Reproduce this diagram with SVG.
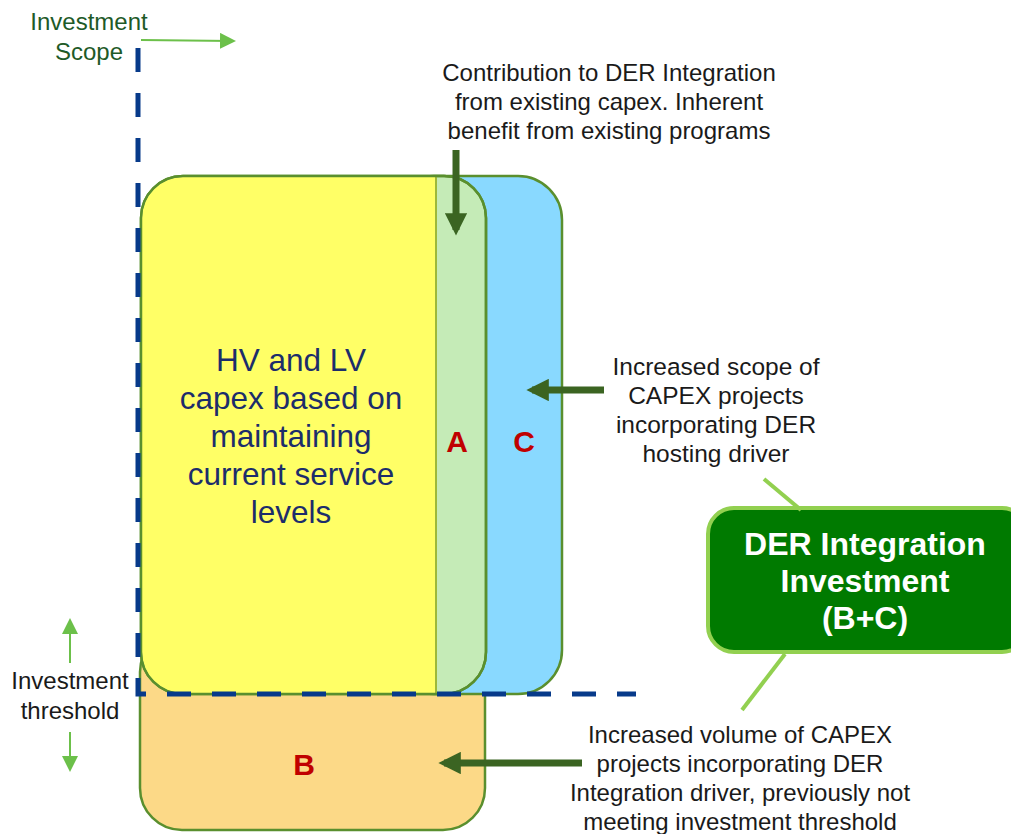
<svg xmlns="http://www.w3.org/2000/svg" width="1011" height="834" viewBox="0 0 1011 834" font-family="'Liberation Sans', Arial, sans-serif">
<defs>
<style>
text{font-family:'Liberation Sans',Arial,sans-serif;text-anchor:middle}
.note{font-size:24px;fill:#1a1a1a}
.lbl{font-size:30px;font-weight:bold;fill:#C00000}
.box{stroke:#5A8F2E;stroke-width:2.5}
.dash{fill:none;stroke:#073A8A;stroke-width:5;stroke-dasharray:24 21}
.thin{stroke:#6CC04A;stroke-width:2;fill:none}
.thick{stroke:#3B6422;stroke-width:7;fill:none}
.link{stroke:#92D050;stroke-width:4;fill:none}
</style>
<marker id="lg" markerWidth="8" markerHeight="8" refX="6" refY="4" orient="auto" markerUnits="strokeWidth"><path d="M0,0 L8,4 L0,8 Z" fill="#6CC04A"/></marker>
<marker id="dg" markerWidth="3.2" markerHeight="3.2" refX="2.4" refY="1.6" orient="auto" markerUnits="strokeWidth"><path d="M0,0 L3.2,1.6 L0,3.2 Z" fill="#3B6422"/></marker>
</defs>
<g id="nodeB"><rect class="box" x="140" y="630" width="345" height="200" rx="42" fill="#FCD987"/><text class="lbl" x="304" y="775">B</text></g>
<g id="nodeC"><rect class="box" x="390" y="176" width="172" height="518" rx="44" fill="#89D9FF"/><text class="lbl" x="524" y="452">C</text></g>
<g id="nodeA">
<rect class="box" x="141" y="176" width="345" height="518" rx="42" fill="#C5EBB7"/>
<path d="M436,177 L183,177 A41,41 0 0 0 142,218 L142,652 A41,41 0 0 0 183,693 L436,693 Z" fill="#FFFF66"/>
<line x1="436" y1="177" x2="436" y2="693" stroke="#9DB83A" stroke-width="2"/>
<rect x="141" y="176" width="345" height="518" rx="42" fill="none" stroke="#5A8F2E" stroke-width="2.5"/>
<text class="lbl" x="457" y="452">A</text>
<text font-size="31.5" fill="#1C2D6B"><tspan x="291" y="371">HV and LV</tspan><tspan x="291" y="409">capex based on</tspan><tspan x="291" y="447">maintaining</tspan><tspan x="291" y="485">current service</tspan><tspan x="291" y="523">levels</tspan></text>
</g>
<g id="scope-lines">
<path class="dash" d="M138,48 L138,694 L636,694"/>
</g>
<g id="nodeDER">
<rect x="708" y="508" width="320" height="144" rx="26" fill="#007A00" stroke="#92D050" stroke-width="4"/>
<text font-size="32" font-weight="bold" fill="#FFFFFF"><tspan x="865" y="555">DER Integration</tspan><tspan x="865" y="592">Investment</tspan><tspan x="865" y="629">(B+C)</tspan></text>
</g>
<g id="labels">
<text font-size="24" fill="#1E5A28"><tspan x="89" y="30">Investment</tspan><tspan x="89" y="60">Scope</tspan></text>
<text class="note"><tspan x="70" y="689">Investment</tspan><tspan x="70" y="719">threshold</tspan></text>
<text class="note"><tspan x="609" y="81">Contribution to DER Integration</tspan><tspan x="609" y="110">from existing capex.  Inherent</tspan><tspan x="609" y="139">benefit from existing programs</tspan></text>
<text class="note" style="font-size:24.5px"><tspan x="716" y="375">Increased scope of</tspan><tspan x="716" y="404">CAPEX projects</tspan><tspan x="716" y="433">incorporating DER</tspan><tspan x="716" y="462">hosting driver</tspan></text>
<text class="note"><tspan x="740" y="743">Increased volume of CAPEX</tspan><tspan x="740" y="772">projects incorporating DER</tspan><tspan x="740" y="801">Integration driver, previously not</tspan><tspan x="740" y="830">meeting investment threshold</tspan></text>
</g>
<g id="connectors">
<line class="thin" x1="141" y1="40" x2="232" y2="41" marker-end="url(#lg)"/>
<line class="thin" x1="70" y1="663" x2="70" y2="622" marker-end="url(#lg)"/>
<line class="thin" x1="70" y1="732" x2="70" y2="768" marker-end="url(#lg)"/>
<line class="thick" x1="456" y1="150" x2="456" y2="230" marker-end="url(#dg)"/>
<line class="thick" x1="604" y1="390" x2="532" y2="390" marker-end="url(#dg)"/>
<line class="thick" x1="582" y1="763" x2="444" y2="763" marker-end="url(#dg)"/>
<line class="link" x1="764" y1="479" x2="801" y2="510"/>
<line class="link" x1="785" y1="654" x2="742" y2="710"/>
</g>
</svg>
